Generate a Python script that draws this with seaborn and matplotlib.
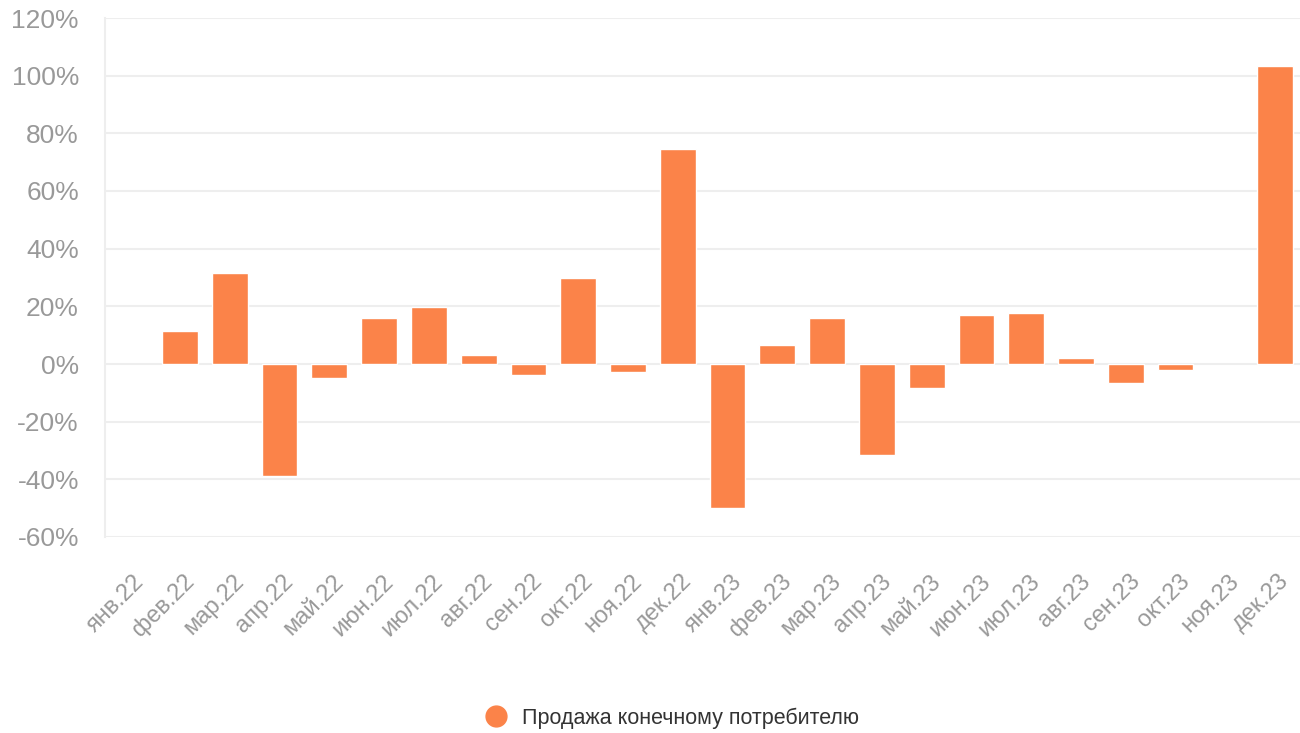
import matplotlib
matplotlib.use("Agg")
import matplotlib.pyplot as plt
import matplotlib.transforms as mtransforms
import seaborn as sns
import pandas as pd
import numpy as np
from matplotlib.lines import Line2D

months = ["янв.22", "фев.22", "мар.22", "апр.22", "май.22", "июн.22", "июл.22", "авг.22",
          "сен.22", "окт.22", "ноя.22", "дек.22", "янв.23", "фев.23", "мар.23", "апр.23",
          "май.23", "июн.23", "июл.23", "авг.23", "сен.23", "окт.23", "ноя.23", "дек.23"]
values = [np.nan, 11.5, 31.7, -39.0, -4.9, 16.0, 19.9, 3.1,
          -3.8, 30.0, -2.8, 74.6, -50.0, 6.6, 16.0, -31.7,
          -8.4, 17.0, 17.8, 2.1, -6.6, -2.0, np.nan, 103.2]
series_name = "Продажа конечному потребителю"
yticks = [-60, -40, -20, 0, 20, 40, 60, 80, 100, 120]

df = pd.DataFrame({"month": months, "value": values})

sns.set_theme(style="white")
plt.rcParams['font.family'] = ['Liberation Sans', 'DejaVu Sans']

color = "#FB8349"
fig = plt.figure(figsize=(13, 7.33), dpi=100)
ax = fig.add_axes([0.081, 1 - 537/733, 1 - 0.081, (537 - 18)/733])

sns.barplot(data=df, x="month", y="value", order=months, color=color, width=0.72,
            saturation=1, ax=ax, zorder=3)

ax.set_ylim(-60, 120)
ax.set_yticks(yticks)
ax.set_yticklabels([f"{t}%" for t in yticks])
ax.grid(axis="y", color="#EEEEEE", linewidth=1.5, zorder=0)
ax.set_axisbelow(True)
for s in ["top", "right", "bottom"]:
    ax.spines[s].set_visible(False)
ax.spines["left"].set_color("#EEEEEE")
ax.spines["left"].set_linewidth(1.5)
ax.set_xlabel("")
ax.set_ylabel("")
ax.set_xticks(range(len(months)))
ax.set_xticklabels(months)
ax.tick_params(axis="y", colors="#999999", labelsize=19, length=0, pad=19)
ax.tick_params(axis="x", colors="#999999", labelsize=17, length=0, pad=24)
offset = mtransforms.ScaledTranslation(3/100, 0, fig.dpi_scale_trans)
for lbl in ax.get_xticklabels():
    lbl.set_rotation(45)
    lbl.set_ha("right")
    lbl.set_rotation_mode("anchor")
    lbl.set_transform(lbl.get_transform() + offset)
ax.set_xlim(-0.5, len(months) - 0.5)

handle = Line2D([0], [0], marker="o", color="none", markerfacecolor=color,
                markeredgecolor=color, markersize=15)
fig.legend([handle], [series_name], loc="center", bbox_to_anchor=(0.513, 1 - 718/733),
           frameon=False, fontsize=15.5, handletextpad=0.2, labelcolor="#333333")

fig.savefig("out.png", dpi=100, facecolor="white")
